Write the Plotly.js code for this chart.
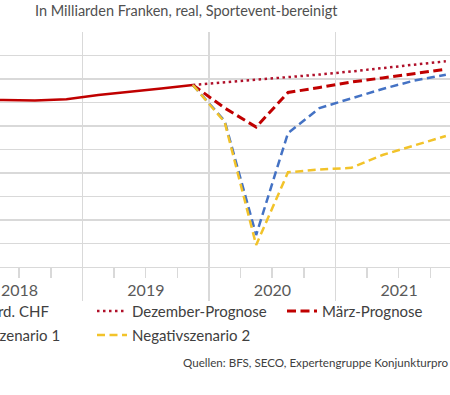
<!DOCTYPE html>
<html>
<head>
<meta charset="utf-8">
<script src="https://cdn.plot.ly/plotly-3.0.1.min.js"></script>
<style>
  html, body { margin: 0; padding: 0; background: #ffffff; }
  #chart { width: 450px; height: 395px; }
</style>
</head>
<body>
<div id="chart"></div>
<script>
// ---- data (Mrd. CHF, real, quarterly) ----
const histQuarters = ['2018Q1','2018Q2','2018Q3','2018Q4','2019Q1','2019Q2','2019Q3','2019Q4'];
const bipValues    = [174.17, 174.21, 174.17, 174.27, 174.63, 174.89, 175.19, 175.49];

const fcQuarters   = ['2019Q4','2020Q1','2020Q2','2020Q3','2020Q4','2021Q1','2021Q2','2021Q3','2021Q4'];
const dezemberPrognose = [175.49, 175.70, 175.91, 176.15, 176.38, 176.64, 176.92, 177.21, 177.51];
const maerzPrognose    = [175.49, 173.53, 171.91, 174.85, 175.28, 175.74, 176.09, 176.44, 176.83];
const negativ1         = [175.49, 172.43, 162.72, 171.40, 173.53, 174.34, 175.15, 175.87, 176.36];
const negativ2         = [175.49, 172.34, 161.87, 168.06, 168.30, 168.44, 169.53, 170.34, 171.15];

const seriesNames = ['BIP in Mrd. CHF','Dezember-Prognose','März-Prognose','Negativszenario 1','Negativszenario 2'];
const yearLabelsFormat = '%Y';
const sourceText = 'Quellen: BFS, SECO, Expertengruppe Konjunkturpro';

// quarter label -> mid-quarter date (category centre)
const midDay = {1:'-02-15', 2:'-05-16', 3:'-08-16', 4:'-11-15'};
const toDate = q => q.slice(0,4) + midDay[+q.slice(5)];

const FONT = 'Lato, "Open Sans", sans-serif';
const red = '#c00000';

const traces = [
  {x: histQuarters.map(toDate), y: bipValues, name: seriesNames[0], type:'scatter', mode:'lines',
   line:{color:red, width:2.5}, legend:'legend', legendgroup:'a'},
  {x: fcQuarters.map(toDate), y: dezemberPrognose, name: seriesNames[1], type:'scatter', mode:'lines',
   line:{color:'#b0102a', width:2.5, dash:'2.5px,3.5px'}, legend:'legend2', legendgroup:'b'},
  {x: fcQuarters.map(toDate), y: maerzPrognose, name: seriesNames[2], type:'scatter', mode:'lines',
   line:{color:red, width:3, dash:'9px,4.5px'}, legend:'legend3', legendgroup:'c'},
  {x: fcQuarters.map(toDate), y: negativ1, name: seriesNames[3], type:'scatter', mode:'lines',
   line:{color:'#4472c4', width:2.5, dash:'8px,4.5px'}, legend:'legend', legendgroup:'d'},
  {x: fcQuarters.map(toDate), y: negativ2, name: seriesNames[4], type:'scatter', mode:'lines',
   line:{color:'#f2c32a', width:2.5, dash:'8px,4.5px'}, legend:'legend2', legendgroup:'e'}
];

const grid = '#d9d9d9';
const legendBase = {
  orientation:'v', bgcolor:'rgba(0,0,0,0)', borderwidth:0,
  font:{family:FONT, size:15, color:'#404040'},
  xanchor:'left', yanchor:'top', yref:'paper', y:-0.118, tracegroupgap:1.5
};

const layout = {
  width:450, height:395,
  margin:{l:0, r:0, t:32, b:128, pad:0, autoexpand:false},
  paper_bgcolor:'#ffffff', plot_bgcolor:'#ffffff',
  font:{family:FONT, color:'#404040'},
  showlegend:true,
  title:{text:'In Milliarden Franken, real, Sportevent-bereinigt',
         xref:'container', x:35/450, xanchor:'left',
         yref:'container', y:1-10.5/395, yanchor:'middle', automargin:false,
         font:{family:FONT, size:14.5, color:'#505050'}},
  xaxis:{
    type:'date', range:['2018-05-07','2021-11-27'],
    tick0:'2018-01-01', dtick:'M12', tickformat:yearLabelsFormat, ticklabelmode:'period',
    ticks:'outside', ticklen:33, tickcolor:grid, tickwidth:1.3,
    ticklabelstandoff:-25,
    showgrid:true, gridcolor:grid, gridwidth:1.3,
    showline:true, linecolor:grid, linewidth:1.3, zeroline:false,
    minor:{tick0:'2018-01-01', dtick:'M3', ticks:'outside', ticklen:10, tickcolor:grid, tickwidth:1.3, showgrid:false},
    tickfont:{family:FONT, size:16, color:'#595959'},
    automargin:false, fixedrange:true
  },
  yaxis:{
    range:[160,180], tick0:160, dtick:2,
    showgrid:true, gridcolor:grid, gridwidth:1.3,
    showticklabels:false, ticks:'', zeroline:false, showline:false, automargin:false, fixedrange:true
  },
  legend: Object.assign({}, legendBase, {x:-98/450}),
  legend2: Object.assign({}, legendBase, {x:92/450}),
  legend3: Object.assign({}, legendBase, {x:282/450}),
  annotations:[{
    text:sourceText,
    xref:'paper', yref:'paper', x:181/450, y:-(362-267)/235,
    xanchor:'left', yanchor:'middle', showarrow:false,
    font:{family:FONT, size:11.6, color:'#404040'}
  }]
};

Plotly.newPlot('chart', traces, layout, {displayModeBar:false, staticPlot:true});
</script>
</body>
</html>
